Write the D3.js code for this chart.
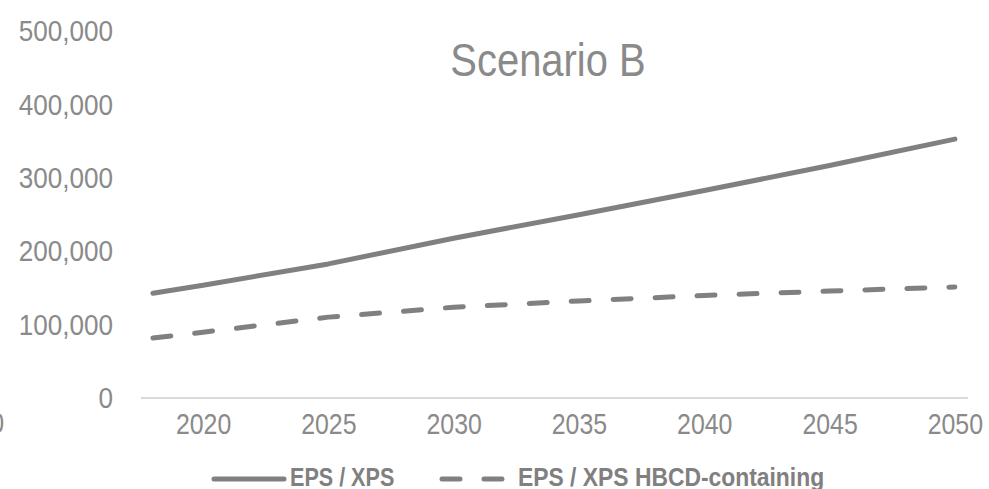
<!DOCTYPE html>
<html>
<head>
<meta charset="utf-8">
<script src="https://cdn.jsdelivr.net/npm/d3@7"></script>
<style>
  html, body { margin: 0; padding: 0; background: #fff; }
  svg { display: block; }
  .lbl { font-family: "Liberation Sans", Arial, sans-serif; }
</style>
</head>
<body>
<svg id="chart" width="989" height="489"></svg>
<script>
// Years read at the axis labels plus the first year of the series
const years = [2018, 2020, 2025, 2030, 2035, 2040, 2045, 2050];
// Total EPS / XPS stock
const epsXps = [142000, 153000, 182000, 217000, 249000, 282000, 316000, 352000];
// HBCD-containing share of the stock
const epsXpsHbcd = [81000, 89000, 109500, 123000, 131500, 139000, 145000, 150500];
const xTickYears = [2020, 2025, 2030, 2035, 2040, 2045, 2050];
const yTickValues = [0, 100000, 200000, 300000, 400000, 500000];
const seriesNames = ["EPS / XPS", "EPS / XPS HBCD-containing"];
const chartTitle = "Scenario B";

const svg = d3.select("#chart");
const lineColor = "#808080";
const textColor = "#8a8a8a";

// Condensed lettering: squeeze a text horizontally around its anchor point
function condense(sel, sx) {
  sel.each(function () {
    const t = d3.select(this);
    const x0 = +t.attr("x") || 0;
    t.attr("x", x0 / sx).attr("transform", `scale(${sx},1)`);
  });
}

// Category-style year axis: each year owns one slot, points sit at slot centres
const x = d3.scaleLinear().domain([2017.5, 2050.5]).range([140.4, 967.4]);
const y = d3.scaleLinear().domain([0, 500000]).range([397.5, 30.5]);

// Y axis labels (no axis line, no ticks)
const yAxis = svg.append("g")
  .attr("transform", "translate(140,0)")
  .call(d3.axisLeft(y).tickValues(yTickValues).tickFormat(d3.format(",")).tickSize(0).tickPadding(27));
yAxis.select(".domain").remove();
yAxis.selectAll("text")
  .attr("class", "lbl")
  .attr("font-size", 29)
  .attr("fill", textColor)
  .attr("dy", "0.35em")
  .call(condense, 0.9);

// X axis: light baseline with year labels
const xAxis = svg.append("g")
  .attr("transform", `translate(0,${y(0)})`)
  .call(d3.axisBottom(x).tickValues(xTickYears).tickFormat(d3.format("d")).tickSize(0).tickPadding(26));
xAxis.select(".domain").attr("stroke", "#d9d9d9").attr("stroke-width", 2);
xAxis.selectAll("text")
  .attr("class", "lbl")
  .attr("font-size", 30)
  .attr("fill", textColor)
  .attr("dy", "0.35em")
  .call(condense, 0.83);

// Clipped label fragment at the left edge
svg.append("text")
  .attr("class", "lbl")
  .attr("x", 4).attr("y", 423).attr("dy", "0.35em")
  .attr("text-anchor", "end")
  .attr("font-size", 30)
  .attr("fill", textColor)
  .text("0")
  .call(condense, 0.83);

// Title
svg.append("g")
  .attr("transform", "translate(548,60)")
  .append("text")
  .attr("class", "lbl")
  .attr("dy", "0.35em")
  .attr("text-anchor", "middle")
  .attr("font-size", 47)
  .attr("fill", textColor)
  .text(chartTitle)
  .call(condense, 0.85);

const line = d3.line()
  .x((d, i) => x(years[i]))
  .y(d => y(d));

svg.append("path")
  .datum(epsXps)
  .attr("d", line)
  .attr("fill", "none")
  .attr("stroke", lineColor)
  .attr("stroke-width", 5)
  .attr("stroke-linecap", "round")
  .attr("stroke-linejoin", "round");

svg.append("path")
  .datum(epsXpsHbcd)
  .attr("d", line)
  .attr("fill", "none")
  .attr("stroke", lineColor)
  .attr("stroke-width", 5)
  .attr("stroke-linecap", "round")
  .attr("stroke-linejoin", "round")
  .attr("stroke-dasharray", "18,24");

// Legend
const legend = svg.append("g");
legend.append("line")
  .attr("x1", 214).attr("x2", 284).attr("y1", 479).attr("y2", 479)
  .attr("stroke", lineColor).attr("stroke-width", 5).attr("stroke-linecap", "round");
legend.append("g")
  .attr("transform", "translate(290,486)")
  .append("text")
  .attr("class", "lbl")
  .attr("font-size", 26).attr("font-weight", "bold")
  .attr("fill", lineColor)
  .text(seriesNames[0])
  .call(condense, 0.83);
legend.append("line")
  .attr("x1", 442).attr("x2", 505).attr("y1", 479).attr("y2", 479)
  .attr("stroke", lineColor).attr("stroke-width", 5).attr("stroke-linecap", "round")
  .attr("stroke-dasharray", "18,24");
legend.append("g")
  .attr("transform", "translate(518,486)")
  .append("text")
  .attr("class", "lbl")
  .attr("font-size", 26).attr("font-weight", "bold")
  .attr("fill", lineColor)
  .text(seriesNames[1])
  .call(condense, 0.88);
</script>
</body>
</html>
